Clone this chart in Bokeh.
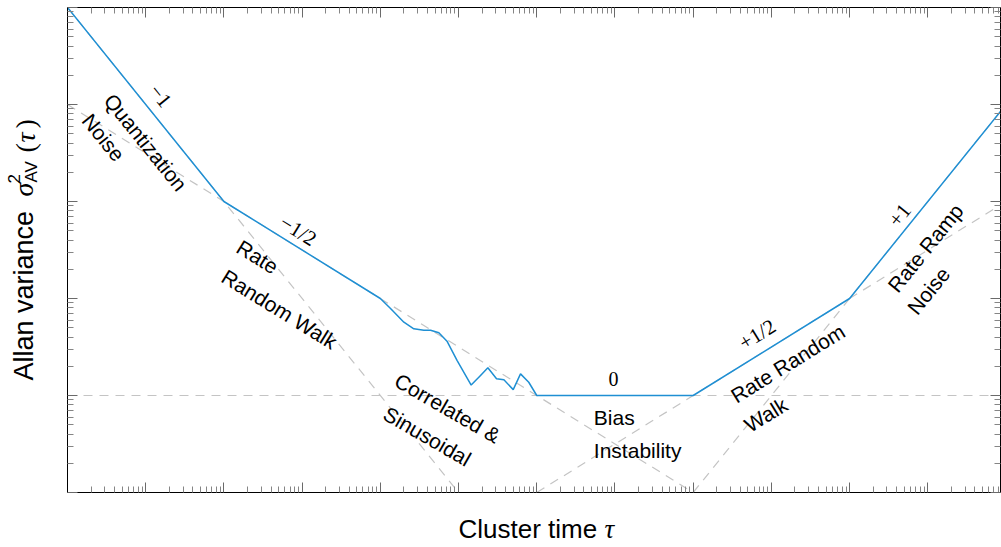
from bokeh.plotting import figure
from bokeh.models import FixedTicker, Label, LogAxis, CustomJSTickFormatter, Range1d
from bokeh.layouts import row, column
from bokeh.embed import file_html
from bokeh.resources import INLINE
import math

# Allan variance curve: cluster time tau and variance sigma^2_AV(tau)
tau = [1.0, 1.0e2, 1.0e4, 1.35e4, 2.0e4, 2.68e4, 3.6e4, 4.39e4, 5.6e4, 7.17e4,
       9.6e4, 1.45e5, 1.91e5, 2.37e5, 3.06e5, 3.8e5, 5.0e5, 6.2e5, 7.9e5,
       1.0e6, 1.0e8, 1.0e10, 8.5e11]
sigma2 = [1.0e5, 1.0e3, 100.0, 78.9, 57.0, 48.7, 47.1, 47.1, 44.3, 36.0,
          22.9, 12.8, 16.1, 19.3, 14.9, 14.5, 11.5, 16.7, 13.7,
          10.0, 10.0, 100.0, 8.5e3]

# Noise-term asymptotes (slopes -1, -1/2, 0, +1/2, +1)
asym_m1_tau, asym_m1_sig = [1.0, 1.0e5], [1.0e5, 1.0]
asym_mh_tau, asym_mh_sig = [1.0, 1.0e8], [1.0e4, 1.0]
asym_0_tau, asym_0_sig = [1.0, 8.5e11], [10.0, 10.0]
asym_ph_tau, asym_ph_sig = [1.0e6, 8.5e11], [1.0, 922.0]
asym_p1_tau, asym_p1_sig = [1.0e8, 8.5e11], [1.0, 8.5e3]

X_RANGE = (1.0, 8.5e11)
Y_RANGE = (1.0, 1.0e5)

BLUE = "#1f8fd3"
DASH = "#c4c4c4"
SANS = "Liberation Sans"
SERIF = "Liberation Serif"

LEFT_W = 66          # strip holding the vertical axis title
MAIN_W = 1001 - LEFT_W
MAIN_H = 493
BOTTOM_H = 547 - MAIN_H

p = figure(width=MAIN_W, height=MAIN_H, x_axis_type="log", y_axis_type="log",
           x_range=X_RANGE, y_range=Y_RANGE, output_backend="svg",
           toolbar_location=None, x_axis_location=None, y_axis_location=None,
           min_border_left=1, min_border_right=1, min_border_top=7,
           min_border_bottom=1)
p.outline_line_color = None
p.background_fill_color = "white"
p.border_fill_color = "white"
p.grid.visible = False

x_major = [10.0 ** k for k in range(0, 13)]
x_minor = [m * 10.0 ** k for k in range(0, 12) for m in range(2, 10)]
y_major = [10.0 ** k for k in range(0, 6)]
y_minor = [m * 10.0 ** k for k in range(0, 5) for m in range(2, 10)]

blank = CustomJSTickFormatter(code="return ''")


def style_axis(ax):
    ax.formatter = blank
    ax.major_label_text_font_size = "0px"
    ax.major_label_standoff = 0
    ax.axis_label = None
    ax.axis_line_color = "black"
    ax.axis_line_width = 1
    ax.major_tick_in = 10
    ax.major_tick_out = 0
    ax.minor_tick_in = 6
    ax.minor_tick_out = 0
    ax.major_tick_line_color = "#6a6a6a"
    ax.minor_tick_line_color = "#858585"


for side in ("below", "above"):
    ax = LogAxis(ticker=FixedTicker(ticks=x_major, minor_ticks=x_minor))
    style_axis(ax)
    p.add_layout(ax, side)
for side in ("left", "right"):
    ax = LogAxis(ticker=FixedTicker(ticks=y_major, minor_ticks=y_minor))
    style_axis(ax)
    p.add_layout(ax, side)

# asymptotes
for tx, sy in ((asym_m1_tau, asym_m1_sig), (asym_mh_tau, asym_mh_sig),
               (asym_0_tau, asym_0_sig), (asym_ph_tau, asym_ph_sig),
               (asym_p1_tau, asym_p1_sig)):
    p.line(tx, sy, line_color=DASH, line_width=1.2, line_dash="9 7")

# measured curve
p.line(tau, sigma2, line_color=BLUE, line_width=1.5)

# annotations: (text, log10 tau, log10 sigma^2, angle deg, font, size, align)
S1 = math.degrees(math.atan(97.0 / 78.2))
SH = math.degrees(math.atan(48.5 / 78.2))
notes = [
    ("\u22121", 1.19, 4.09, -S1, SERIF, "21px", "center"),
    ("Quantization", 1.00, 3.61, -S1, SANS, "21px", "center"),
    ("Noise", 0.46, 3.66, -S1, SANS, "21px", "center"),
    ("\u22121/2", 2.95, 2.70, -SH, SERIF, "21px", "center"),
    ("Rate", 2.43, 2.43, -SH, SANS, "21px", "center"),
    ("Random Walk", 2.71, 1.89, -SH, SANS, "21px", "center"),
    ("Correlated &", 4.86, 0.87, -30.0, SANS, "21px", "center"),
    ("Sinusoidal", 4.60, 0.58, -30.0, SANS, "21px", "center"),
    ("0", 6.98, 1.17, 0.0, SERIF, "20px", "center"),
    ("Bias", 6.73, 0.77, 0.0, SANS, "21px", "left"),
    ("Instability", 6.73, 0.43, 0.0, SANS, "21px", "left"),
    ("+1/2", 8.82, 1.63, SH, SERIF, "21px", "center"),
    ("Rate Random", 9.21, 1.33, SH, SANS, "21px", "center"),
    ("Walk", 8.93, 0.80, SH, SANS, "21px", "center"),
    ("+1", 10.64, 2.86, S1, SERIF, "21px", "center"),
    ("Rate Ramp", 10.97, 2.52, S1, SANS, "21px", "center"),
    ("Noise", 11.01, 2.08, S1, SANS, "21px", "center"),
]
for text, lx, ly, ang, font, size, align in notes:
    p.add_layout(Label(x=10.0 ** lx, y=10.0 ** ly, text=text, angle=ang,
                       angle_units="deg", text_font=font, text_font_size=size,
                       text_align=align, text_baseline="middle",
                       text_color="black"))


def strip(w, h):
    f = figure(width=w, height=h, x_range=Range1d(0, w), y_range=Range1d(0, h),
               output_backend="svg", toolbar_location=None,
               x_axis_location=None, y_axis_location=None,
               min_border=0, outline_line_color=None)
    f.background_fill_color = "white"
    f.border_fill_color = "white"
    f.grid.visible = False
    f.xgrid.visible = False
    f.ygrid.visible = False
    return f


def title_part(f, text, x, y, font, size_px, style="normal", vertical=False):
    # (x, y) is the start of the text baseline, measured from the strip's
    # top-left corner; labels are anchored on their middle line.
    shift = 0.36 * size_px
    if vertical:
        sx, sy = x - shift, f.height - y
    else:
        sx, sy = x, f.height - (y - shift)
    f.add_layout(Label(x=sx, y=sy, x_units="screen", y_units="screen",
                       text=text, text_font=font, text_font_size=f"{size_px}px",
                       text_font_style=style, angle=90 if vertical else 0,
                       angle_units="deg", text_align="left",
                       text_baseline="middle", text_color="black"))


# horizontal axis title (x measured from the left edge of the page)
xl = strip(MAIN_W, BOTTOM_H)
title_part(xl, "Cluster time", 457 - LEFT_W, 538 - MAIN_H, SANS, 26)
title_part(xl, "\u03c4", 603 - LEFT_W, 538 - MAIN_H, SERIF, 27, style="italic")

# vertical axis title
yl = strip(LEFT_W, 547)
title_part(yl, "Allan variance", 33, 380, SANS, 27, vertical=True)
title_part(yl, "\u03c3", 33, 196, SERIF, 28, style="italic", vertical=True)
title_part(yl, "2", 20, 183, SANS, 17, vertical=True)
title_part(yl, "AV", 37, 182, SANS, 17, vertical=True)
title_part(yl, "(", 35, 152, SERIF, 28, vertical=True)
title_part(yl, "\u03c4", 35, 142, SERIF, 28, style="italic", vertical=True)
title_part(yl, ")", 35, 128, SERIF, 28, vertical=True)

layout = row(yl, column(p, xl, spacing=0), spacing=0)
open("out.html", "w").write(file_html(layout, INLINE))
